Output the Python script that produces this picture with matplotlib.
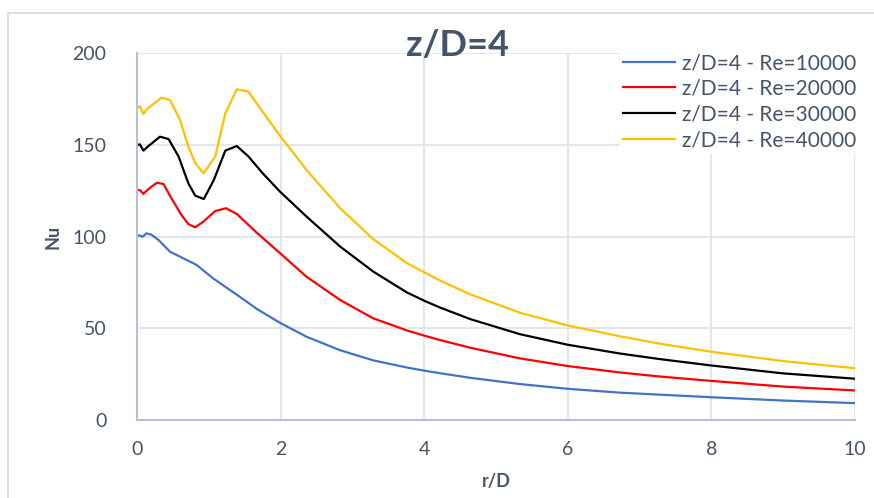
import matplotlib
matplotlib.use("Agg")
import matplotlib.pyplot as plt
from matplotlib.patches import Rectangle

# r/D and Nu
r_10k = [0, 0.04, 0.08, 0.13, 0.2, 0.3, 0.46, 0.6, 0.83, 1.06, 1.43, 1.67, 1.99, 2.36,
         2.83, 3.29, 3.76, 3.94, 4.22, 4.64, 5.33, 6.0, 6.73, 7.28, 8, 9, 10]
nu_10k = [100.8, 100.5, 99.9, 101.7, 101.0, 98.1, 91.7, 89.0, 84.5, 77.2, 67.2, 60.5, 53.0, 45.4,
          38.0, 32.5, 28.6, 27.3, 25.5, 23.0, 19.6, 17.0, 14.9, 13.8, 12.4, 10.6, 9.2]

r_20k = [0, 0.04, 0.09, 0.13, 0.2, 0.28, 0.37, 0.48, 0.62, 0.715, 0.81, 0.925, 1.09, 1.24,
         1.39, 1.67, 1.99, 2.36, 2.83, 3.29, 3.76, 4.0, 4.22, 4.64, 5.33, 6.0, 6.73, 7.28,
         8, 9, 10]
nu_20k = [125.3, 125.3, 123.2, 124.8, 127.1, 129.3, 128.6, 120.8, 111.7, 106.8, 105.0, 108.1, 113.9, 115.4,
          112.3, 102.0, 91.0, 78.1, 65.4, 55.4, 48.8, 46.0, 43.6, 39.4, 33.6, 29.4, 25.9, 23.7,
          21.3, 18.2, 16.1]

r_30k = [0, 0.04, 0.09, 0.15, 0.32, 0.44, 0.58, 0.715, 0.81, 0.93, 1.07, 1.23, 1.39, 1.55,
         1.75, 1.99, 2.36, 2.83, 3.29, 3.76, 4.0, 4.22, 4.64, 5.33, 6.0, 6.73, 7.28, 8, 9, 10]
nu_30k = [149.9, 150.2, 146.8, 149.0, 154.4, 153.1, 143.5, 129.0, 122.3, 120.4, 130.8, 146.8, 149.3, 143.7,
          134.5, 124.5, 110.9, 94.5, 80.9, 69.5, 65.0, 61.3, 55.0, 46.8, 41.0, 36.2, 33.2, 29.7, 25.4, 22.5]

r_40k = [0, 0.04, 0.09, 0.135, 0.34, 0.46, 0.6, 0.715, 0.81, 0.925, 1.09, 1.23, 1.39, 1.55,
         1.75, 1.99, 2.36, 2.83, 3.29, 3.76, 4.0, 4.22, 4.64, 5.33, 6.0, 6.73, 7.28, 8, 9, 10]
nu_40k = [169.9, 171.0, 166.7, 169.3, 175.6, 174.4, 163.5, 149.0, 140.2, 134.4, 143.5, 167.1, 180.2, 179.0,
          168.0, 155.0, 136.3, 115.4, 98.6, 85.5, 80.5, 76.0, 68.5, 58.5, 51.5, 45.6, 41.6, 37.2, 32.1, 28.2]

labels = ["z/D=4 - Re=10000", "z/D=4 - Re=20000", "z/D=4 - Re=30000", "z/D=4 - Re=40000"]
colors = ["#4472C4", "#FF0000", "#000000", "#FFC000"]

txt = "#44546A"
grid_c = "#E1E5EC"
plt.rcParams["font.family"] = ["Lato", "DejaVu Sans"]

fig = plt.figure(figsize=(8.74, 4.98), dpi=100)
ax = fig.add_axes([137 / 874, 1 - 420 / 498, (855 - 137) / 874, (420 - 53) / 498])

# chart area border (only left/top edges are visible in the crop)
fig.patches.append(Rectangle((8 / 874, -0.1), 1.2, 1 - 13 / 498 + 0.1,
                             transform=fig.transFigure, fill=False,
                             edgecolor="#D9D9D9", linewidth=1.2))

series = [(r_10k, nu_10k), (r_20k, nu_20k), (r_30k, nu_30k), (r_40k, nu_40k)]
for (r, nu), lab, c in zip(series, labels, colors):
    ax.plot(r, nu, color=c, linewidth=1.6, label=lab)

ax.set_xlim(0, 10)
ax.set_ylim(0, 200)
ax.set_xticks([0, 2, 4, 6, 8, 10])
ax.set_yticks([0, 50, 100, 150, 200])
ax.grid(True, color=grid_c, linewidth=1.3)
ax.set_axisbelow(True)
for s in ["top", "right"]:
    ax.spines[s].set_visible(False)
for s in ["left", "bottom"]:
    ax.spines[s].set_color("#B4C0D3")
    ax.spines[s].set_linewidth(1.5)
ax.tick_params(length=0, labelsize=14, labelcolor=txt)
ax.tick_params(axis="y", pad=22)
ax.tick_params(axis="x", pad=15)

ax.set_xlabel("r/D", fontsize=13, fontweight="bold", color=txt, labelpad=11)
ax.set_ylabel("Nu", fontsize=13, fontweight="bold", color=txt, labelpad=8)

fig.text(457 / 874, 1 - 46 / 498, "z/D=4", fontsize=26, fontweight="bold",
         color=txt, ha="center", va="center")

leg = ax.legend(loc="upper right", bbox_to_anchor=(860 / 874, 1 - 49 / 498),
                bbox_transform=fig.transFigure, fontsize=15, frameon=True,
                handlelength=2.5, handletextpad=0.3, labelspacing=0.27,
                borderpad=0.2, borderaxespad=0)
leg.get_frame().set_facecolor("white")
leg.get_frame().set_edgecolor("none")
leg.get_frame().set_alpha(1)
for t in leg.get_texts():
    t.set_color(txt)

fig.savefig("out.png", dpi=100)
